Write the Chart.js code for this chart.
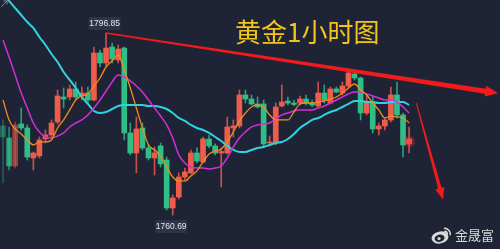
<!DOCTYPE html>
<html>
<head>
<meta charset="utf-8">
<script src="https://cdn.jsdelivr.net/npm/chart.js@4/dist/chart.umd.min.js"></script>
<style>
  html, body { margin: 0; padding: 0; background: #1e2436; overflow: hidden; }
  #wrap { position: relative; width: 500px; height: 249px; }
  #chart { position: absolute; left: 0; top: 0; }
  #title {
    position: absolute; left: 235px; top: 14px;
    font-family: "Noto Sans CJK SC", sans-serif; font-size: 26px; line-height: 34px;
    color: #f2c41c; white-space: nowrap;
  }
  #mark {
    position: absolute; left: 431px; top: 226px; height: 18px;
    display: flex; align-items: center; gap: 3px;
    font-family: "Noto Sans CJK SC", sans-serif; font-size: 13px; line-height: 16px;
    color: #d8d8d8; white-space: nowrap;
  }
</style>
</head>
<body>
<div id="wrap">
  <canvas id="chart" width="500" height="249"></canvas>
  <div id="title">黄金1小时图</div>
  <div id="mark">
    <svg width="21" height="18" viewBox="0 0 21 18">
      <ellipse cx="9" cy="11.5" rx="8.5" ry="6" fill="#d8d8d8" transform="rotate(-12 9 11.5)"/>
      <ellipse cx="8.6" cy="12.2" rx="5" ry="3.6" fill="#1e2436" transform="rotate(-12 8.6 12.2)"/>
      <circle cx="8" cy="12.6" r="1.6" fill="#d8d8d8"/>
      <path d="M13.5 2.2 A6 6 0 0 1 19.3 8.6" fill="none" stroke="#d8d8d8" stroke-width="1.6" stroke-linecap="round"/>
      <path d="M13.8 5.2 A3 3 0 0 1 16.4 8" fill="none" stroke="#d8d8d8" stroke-width="1.4" stroke-linecap="round"/>
    </svg>
    <span>金晟富</span>
  </div>
</div>
<script>
// Hourly gold candles (USD/oz)
const open = [
  1778.38, 1775.99, 1770.43, 1778.78, 1777.98, 1772.02, 1772.42, 1775.79, 1776.59, 1779.17,
  1784.14, 1784.14, 1785.73, 1784.34, 1784.93, 1783.54, 1792.88, 1790.89, 1794.07, 1791.49,
  1793.87, 1776.99, 1773.01, 1777.98, 1774.01, 1772.02, 1774.41, 1771.62, 1762.08, 1764.27,
  1768.24, 1769.04, 1773.01, 1771.22, 1775.79, 1774.41, 1773.01, 1773.01, 1777.98, 1778.38,
  1784.54, 1783.74, 1782.75, 1782.75, 1775.00, 1775.00, 1782.35, 1783.34, 1782.94, 1782.94,
  1783.74, 1782.94, 1782.35, 1784.93, 1782.94, 1785.73, 1784.93, 1786.33, 1788.71, 1787.91,
  1780.96, 1782.94, 1777.78, 1778.38, 1779.57, 1784.54, 1780.57, 1774.81
];
const close = [
  1776.19, 1770.43, 1778.58, 1777.98, 1772.22, 1773.01, 1775.60, 1776.59, 1778.97, 1784.34,
  1783.74, 1785.73, 1784.14, 1784.93, 1783.54, 1792.88, 1790.89, 1793.87, 1791.69, 1793.67,
  1776.99, 1773.01, 1777.78, 1774.01, 1772.02, 1773.01, 1770.83, 1762.08, 1764.07, 1768.24,
  1769.24, 1773.01, 1771.42, 1775.79, 1774.41, 1773.01, 1773.31, 1778.18, 1778.38, 1784.54,
  1783.74, 1782.75, 1782.15, 1774.81, 1775.20, 1782.15, 1783.14, 1782.94, 1782.65, 1783.74,
  1782.94, 1782.55, 1784.93, 1783.54, 1785.73, 1785.13, 1786.33, 1788.91, 1787.91, 1780.96,
  1782.94, 1777.78, 1778.38, 1779.57, 1784.54, 1780.57, 1774.61, 1775.79
];
const high = [
  1779.57, 1778.18, 1779.17, 1781.95, 1778.58, 1773.21, 1776.19, 1777.58, 1779.57, 1785.53,
  1785.93, 1786.53, 1787.12, 1786.13, 1786.13, 1794.07, 1793.48, 1796.85, 1794.86, 1794.47,
  1794.07, 1778.97, 1780.17, 1778.97, 1774.61, 1774.21, 1775.00, 1772.22, 1764.67, 1769.04,
  1770.03, 1773.61, 1774.01, 1776.19, 1776.59, 1774.81, 1774.01, 1780.17, 1779.57, 1785.53,
  1785.53, 1784.54, 1784.14, 1783.54, 1776.39, 1782.94, 1786.53, 1784.14, 1783.54, 1784.34,
  1784.54, 1783.54, 1787.12, 1786.53, 1786.13, 1786.13, 1787.12, 1789.10, 1789.10, 1788.11,
  1784.54, 1784.14, 1778.97, 1779.97, 1786.13, 1787.12, 1780.96, 1778.18
];
const low = [
  1767.05, 1769.63, 1770.03, 1777.58, 1771.62, 1769.63, 1772.02, 1775.00, 1775.99, 1778.78,
  1781.95, 1783.54, 1783.74, 1783.54, 1782.94, 1783.34, 1790.10, 1790.30, 1790.89, 1790.89,
  1775.60, 1772.62, 1769.04, 1773.61, 1771.62, 1768.64, 1770.23, 1761.69, 1760.69, 1763.87,
  1767.65, 1768.84, 1771.02, 1771.02, 1774.01, 1772.62, 1766.26, 1772.81, 1776.19, 1777.98,
  1782.94, 1782.55, 1781.95, 1774.21, 1774.41, 1774.61, 1782.15, 1782.55, 1782.35, 1782.55,
  1782.55, 1782.15, 1782.15, 1782.94, 1782.75, 1784.93, 1784.54, 1786.13, 1787.52, 1779.57,
  1780.57, 1776.99, 1776.59, 1777.58, 1779.17, 1779.97, 1772.22, 1773.01
];

// Moving averages shown on the chart (short / mid / long)
const maShort = [
  1783.54, 1779.57, 1777.78, 1776.79, 1775.60, 1774.61, 1775.20, 1775.20, 1775.60, 1777.98,
  1779.57, 1781.56, 1783.54, 1784.34, 1784.74, 1786.33, 1787.91, 1790.10, 1791.29, 1792.48,
  1789.50, 1785.93, 1781.95, 1777.98, 1774.61, 1773.61, 1772.42, 1770.23, 1768.24, 1767.45,
  1767.45, 1768.44, 1769.44, 1771.22, 1772.81, 1773.41, 1773.81, 1775.20, 1777.19, 1779.37,
  1780.96, 1782.15, 1782.55, 1782.15, 1780.57, 1779.57, 1779.57, 1779.57, 1781.16, 1782.75,
  1782.94, 1782.94, 1783.14, 1783.34, 1783.74, 1784.14, 1784.93, 1785.93, 1786.72, 1785.53,
  1784.54, 1782.94, 1781.56, 1779.97, 1780.36, 1780.17, 1779.97, 1778.97
];
const maMid = [
  1795.46, 1792.08, 1788.51, 1784.93, 1781.95, 1778.97, 1777.19, 1776.19, 1775.99, 1776.39,
  1776.99, 1778.18, 1778.97, 1779.57, 1780.57, 1781.95, 1783.54, 1785.33, 1787.12, 1788.51,
  1788.11, 1787.32, 1786.33, 1785.13, 1783.54, 1781.95, 1780.36, 1778.58, 1775.99, 1772.62,
  1771.02, 1770.23, 1770.03, 1770.03, 1769.83, 1770.03, 1770.43, 1772.02, 1774.21, 1775.99,
  1777.19, 1778.18, 1778.58, 1778.78, 1778.97, 1779.77, 1780.57, 1780.96, 1781.36, 1781.56,
  1781.56, 1781.56, 1781.95, 1782.35, 1782.94, 1783.54, 1784.14, 1784.74, 1785.13, 1785.13,
  1784.74, 1784.34, 1783.94, 1783.54, 1783.54, 1783.14, 1782.15, 1780.96
];
const maLong = [
  1804.40, 1803.21, 1801.82, 1800.43, 1799.04, 1797.85, 1796.06, 1794.47, 1792.68, 1791.09,
  1789.10, 1787.52, 1785.93, 1784.14, 1782.75, 1781.36, 1780.96, 1781.16, 1781.75, 1782.35,
  1782.55, 1782.55, 1782.55, 1782.55, 1782.35, 1782.35, 1782.15, 1781.75, 1780.96, 1779.97,
  1779.37, 1778.58, 1777.98, 1777.58, 1776.99, 1776.19, 1775.40, 1774.41, 1773.61, 1773.21,
  1773.21, 1773.61, 1774.01, 1774.21, 1774.61, 1775.00, 1775.20, 1775.79, 1776.79, 1777.98,
  1778.78, 1779.57, 1779.97, 1780.57, 1781.16, 1781.56, 1782.15, 1782.75, 1783.34, 1783.34,
  1783.14, 1783.14, 1782.94, 1782.94, 1783.14, 1783.14, 1783.14, 1782.55
];

// Hand-drawn trend arrows, in (candle index, price) coordinates
const trendArrow = { x2: 81.7, y2: 1784.9 };
const dropArrow  = { x1: 68.2, y1: 1782.9, x2: 72.6, y2: 1763.7 };

const UP = [240, 92, 76], DOWN = [48, 190, 134];
const rgba = (c, a) => `rgba(${c[0]},${c[1]},${c[2]},${a})`;
const edgeFade = i => [0.45, 0.8, 0.55][i] ?? 1;   // dim the candles at the left edge
const isUp = i => close[i] >= open[i];
const bodyColors = open.map((_, i) => rgba(isUp(i) ? UP : DOWN, edgeFade(i)));
const wickColors = open.map((_, i) => rgba(isUp(i) ? UP : DOWN, 0.8 * edgeFade(i)));

const idx = open.map((_, i) => i);
const lastIdx = idx.length - 1;
const hiIdx = high.indexOf(Math.max(...high));
const loIdx = low.indexOf(Math.min(...low));

function roundRect(ctx, x, y, w, h, r) {
  ctx.beginPath();
  ctx.moveTo(x + r, y);
  ctx.arcTo(x + w, y, x + w, y + h, r);
  ctx.arcTo(x + w, y + h, x, y + h, r);
  ctx.arcTo(x, y + h, x, y, r);
  ctx.arcTo(x, y, x + w, y, r);
  ctx.closePath();
}

// tapered arrow: shaft widens from w0 to w1, then a triangular head
function arrow(ctx, x1, y1, x2, y2, w0, w1, headLen, headHalf, color) {
  const dx = x2 - x1, dy = y2 - y1, len = Math.hypot(dx, dy);
  const ux = dx / len, uy = dy / len, nx = -uy, ny = ux;
  const bx = x2 - ux * headLen, by = y2 - uy * headLen;
  ctx.fillStyle = color;
  ctx.beginPath();
  ctx.moveTo(x1 + nx * w0 / 2, y1 + ny * w0 / 2);
  ctx.lineTo(bx + nx * w1 / 2, by + ny * w1 / 2);
  ctx.lineTo(bx + nx * headHalf, by + ny * headHalf);
  ctx.lineTo(x2, y2);
  ctx.lineTo(bx - nx * headHalf, by - ny * headHalf);
  ctx.lineTo(bx - nx * w1 / 2, by - ny * w1 / 2);
  ctx.lineTo(x1 - nx * w0 / 2, y1 - ny * w0 / 2);
  ctx.closePath();
  ctx.fill();
}

const overlay = {
  id: 'overlay',
  afterDatasetsDraw(chart) {
    const { ctx, scales: { x, y } } = chart;
    ctx.save();

    // glow on the live candle
    const gx = x.getPixelForValue(lastIdx);
    const gy = y.getPixelForValue((open[lastIdx] + close[lastIdx]) / 2);
    const g = ctx.createRadialGradient(gx, gy, 0, gx, gy, 7);
    g.addColorStop(0, 'rgba(255,60,60,0.75)');
    g.addColorStop(1, 'rgba(255,60,60,0)');
    ctx.fillStyle = g;
    ctx.fillRect(gx - 8, gy - 8, 16, 16);

    // price tags at the swing high and swing low
    ctx.font = '8.5px "Liberation Sans", Arial, sans-serif';
    ctx.textAlign = 'center';
    ctx.textBaseline = 'middle';
    const tag = (i, v, above) => {
      const px = x.getPixelForValue(i) - 1.5, py = y.getPixelForValue(v);
      const w = 32, h = 13;
      const top = above ? py - 3 - h : py + 5;
      ctx.fillStyle = '#2d3447';
      roundRect(ctx, px - w / 2, top, w, h, 2);
      ctx.fill();
      ctx.fillStyle = '#e4e6ea';
      ctx.fillText(v.toFixed(2), px, top + h / 2 + 0.5);
    };
    tag(hiIdx, high[hiIdx], true);
    tag(loIdx, low[loIdx], false);

    // trend line from the swing high, and the drop arrow
    arrow(ctx, x.getPixelForValue(hiIdx), y.getPixelForValue(high[hiIdx]),
          x.getPixelForValue(trendArrow.x2), y.getPixelForValue(trendArrow.y2),
          1.6, 5, 13, 5.5, '#f21b1b');
    arrow(ctx, x.getPixelForValue(dropArrow.x1), y.getPixelForValue(dropArrow.y1),
          x.getPixelForValue(dropArrow.x2), y.getPixelForValue(dropArrow.y2),
          1, 3.5, 12, 4.5, '#f21b1b');

    // small corner glyph
    ctx.strokeStyle = '#7f8494';
    ctx.lineWidth = 1;
    ctx.beginPath();
    ctx.moveTo(1, 7); ctx.lineTo(7, 1); ctx.moveTo(3.5, 1); ctx.lineTo(7, 1); ctx.lineTo(7, 4.5);
    ctx.stroke();
    ctx.restore();
  }
};

const line = (data, color, width) => ({
  type: 'line',
  data: idx.map(i => ({ x: i, y: data[i] })),
  borderColor: color,
  borderWidth: width,
  pointRadius: 0,
  cubicInterpolationMode: 'monotone',
  order: 0
});

new Chart(document.getElementById('chart'), {
  type: 'bar',
  data: {
    datasets: [
      line(maShort, '#f28c1e', 1.3),
      line(maMid, '#d22fd6', 1.5),
      line(maLong, '#2fd3e0', 2),
      {
        data: idx.map(i => ({ x: i, y: [open[i], close[i]] })),
        backgroundColor: bodyColors,
        barThickness: 5,
        minBarLength: 1,
        grouped: false,
        borderWidth: 0,
        order: 1
      },
      {
        data: idx.map(i => ({ x: i, y: [low[i], high[i]] })),
        backgroundColor: wickColors,
        barThickness: 1,
        grouped: false,
        borderWidth: 0,
        order: 2
      }
    ]
  },
  options: {
    responsive: false,
    animation: false,
    events: [],
    layout: { padding: 0 },
    plugins: { legend: { display: false }, tooltip: { enabled: false } },
    scales: {
      x: { type: 'linear', min: -0.5, max: 82, offset: false, display: false },
      y: { min: 1753.93, max: 1803.41, display: false }
    }
  },
  plugins: [overlay]
});
</script>
</body>
</html>
